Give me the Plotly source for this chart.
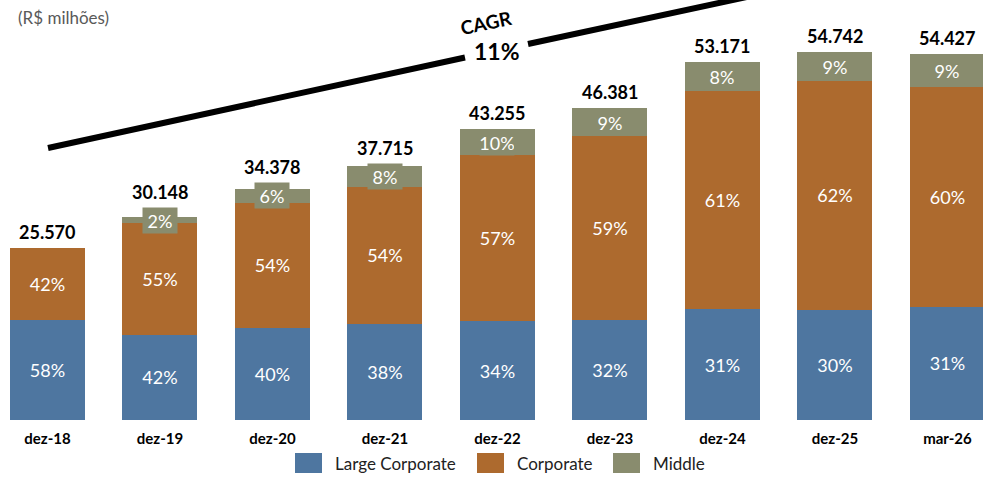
import plotly.graph_objects as go

categories = ["dez-18", "dez-19", "dez-20", "dez-21", "dez-22", "dez-23", "dez-24", "dez-25", "mar-26"]
totals = [25570, 30148, 34378, 37715, 43255, 46381, 53171, 54742, 54427]
total_labels = ["25.570", "30.148", "34.378", "37.715", "43.255", "46.381", "53.171", "54.742", "54.427"]
share_large = [58, 42, 40, 38, 34, 32, 31, 30, 31]
share_corporate = [42, 55, 54, 54, 57, 59, 61, 62, 60]
share_middle = [0, 2, 6, 8, 10, 9, 8, 9, 9]

large = [t * s / 100 for t, s in zip(totals, share_large)]
corporate = [t * s / 100 for t, s in zip(totals, share_corporate)]
middle = [t - a - b for t, a, b in zip(totals, large, corporate)]

C_LARGE = "#4E76A0"
C_CORP = "#AD6A2E"
C_MID = "#898C6E"
FONT = "Lato, Open Sans, sans-serif"

W, H = 983, 477
MB = 57
PH = H - MB
YMAX = 62435
BOX_H = 25


def px(x):
    return x / W


def py(y):
    return (PH - y) / PH


fig = go.Figure()
fig.add_bar(x=categories, y=large, name="Large Corporate", marker_color=C_LARGE,
            marker_line_width=0, width=0.667,
            text=[f"{s}%" for s in share_large], textposition="inside",
            insidetextanchor="middle", constraintext="none", textangle=0,
            textfont=dict(color="white", size=18, family=FONT))
fig.add_bar(x=categories, y=corporate, name="Corporate", marker_color=C_CORP,
            marker_line_width=0, width=0.667,
            text=[f"{s}%" for s in share_corporate], textposition="inside",
            insidetextanchor="middle", constraintext="none", textangle=0,
            textfont=dict(color="white", size=18, family=FONT))
fig.add_bar(x=categories, y=middle, name="Middle", marker_color=C_MID,
            marker_line_width=0, width=0.667)

annotations = []
for i, c in enumerate(categories):
    shift = 3
    if share_middle[i] > 0:
        seg_half_px = middle[i] / YMAX * PH / 2
        shift += max(0.0, BOX_H / 2 - seg_half_px)
    annotations.append(dict(x=c, y=totals[i], xref="x", yref="y", text=f"<b>{total_labels[i]}</b>",
                            showarrow=False, xanchor="center", yanchor="bottom", yshift=shift,
                            font=dict(size=18, color="black", family=FONT)))
    if share_middle[i] > 0:
        ymid = large[i] + corporate[i] + middle[i] / 2
        annotations.append(dict(x=c, y=ymid, xref="x", yref="y", text=f"{share_middle[i]}%",
                                showarrow=False, xanchor="center", yanchor="middle",
                                bgcolor=C_MID, borderpad=0, width=34, height=BOX_H,
                                font=dict(size=18, color="white", family=FONT)))

annotations.append(dict(x=px(16), y=py(18), xref="paper", yref="paper", text="(R$ milhões)",
                        showarrow=False, xanchor="left", yanchor="middle",
                        font=dict(size=17, color="#595959", family=FONT)))
annotations.append(dict(x=px(486), y=py(22), xref="paper", yref="paper", text="<b>CAGR</b>",
                        showarrow=False, textangle=-12, xanchor="center", yanchor="middle",
                        font=dict(size=19, color="black", family=FONT)))
annotations.append(dict(x=px(497), y=py(51), xref="paper", yref="paper", text="<b>11%</b>",
                        showarrow=False, xanchor="center", yanchor="middle",
                        font=dict(size=23, color="black", family=FONT)))

shapes = [
    dict(type="line", xref="paper", yref="paper", x0=px(48), y0=py(148), x1=px(465), y1=py(57.5),
         line=dict(color="black", width=6)),
    dict(type="line", xref="paper", yref="paper", x0=px(528), y0=py(44), x1=px(770), y1=py(-8),
         line=dict(color="black", width=6)),
]

legend_items = [("Large Corporate", C_LARGE, 295), ("Corporate", C_CORP, 477), ("Middle", C_MID, 613)]
for name, col, x0 in legend_items:
    shapes.append(dict(type="rect", xref="paper", yref="paper", x0=px(x0), x1=px(x0 + 27),
                       y0=py(473), y1=py(453), fillcolor=col, line_width=0))
    annotations.append(dict(x=px(x0 + 38), y=py(463), xref="paper", yref="paper", text=name,
                            showarrow=False, xanchor="left", yanchor="middle",
                            font=dict(size=17, color="#222222", family=FONT)))

fig.update_layout(
    width=W, height=H, barmode="stack", showlegend=False,
    margin=dict(l=0, r=0, t=0, b=MB),
    plot_bgcolor="white", paper_bgcolor="white",
    annotations=annotations, shapes=shapes,
    xaxis=dict(range=[-0.422, 8.316], showgrid=False, showline=False, zeroline=False, ticks="",
               ticklabelstandoff=8,
               tickfont=dict(size=15, color="black", family="Liberation Sans Narrow, Arial Narrow, Lato"),
               tickprefix="<b>", ticksuffix="</b>"),
    yaxis=dict(range=[0, YMAX], visible=False),
    uniformtext=dict(mode=False),
)

fig.write_html("out.html", config={"displayModeBar": False},
               post_script="document.body.style.margin='0';")
